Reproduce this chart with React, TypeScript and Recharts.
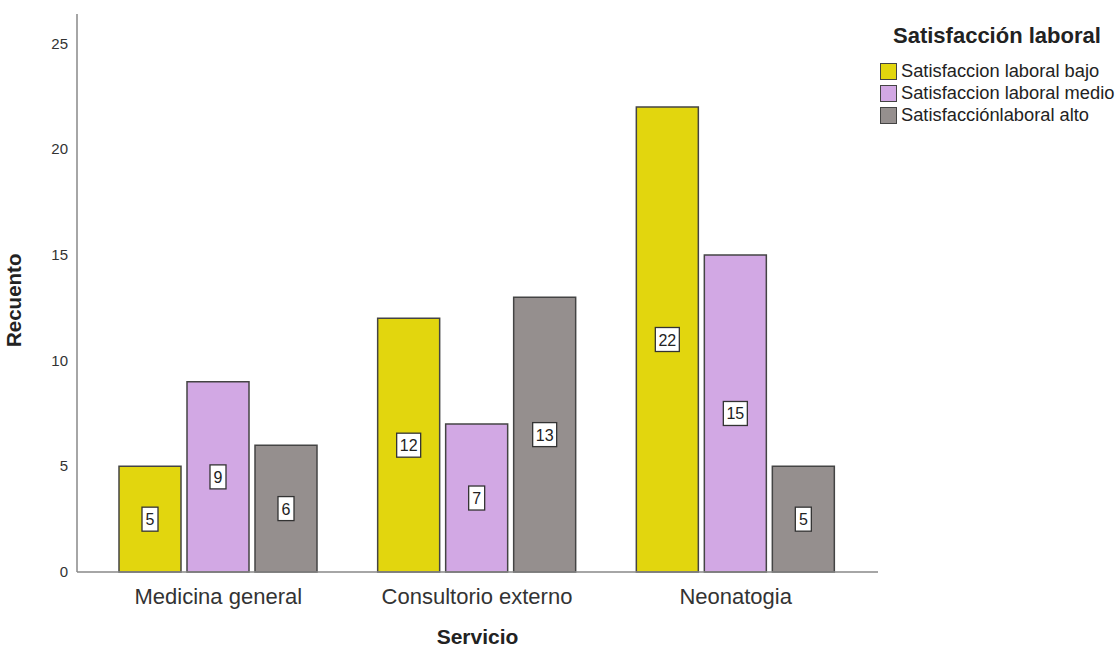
import React from 'react';
import { BarChart, Bar, XAxis, YAxis, LabelList } from 'recharts';

const servicios = ['Medicina general', 'Consultorio externo', 'Neonatogia'];
const bajo = [5, 12, 22];
const medio = [9, 7, 15];
const alto = [6, 13, 5];
const yTicks = [0, 5, 10, 15, 20, 25];

const series = [
  { key: 'bajo', name: 'Satisfaccion laboral bajo', color: '#e2d60e' },
  { key: 'medio', name: 'Satisfaccion laboral medio', color: '#d2a8e4' },
  { key: 'alto', name: 'Satisfacciónlaboral alto', color: '#958f8e' },
];

const data = servicios.map((s, i) => ({
  servicio: s,
  bajo: bajo[i],
  medio: medio[i],
  alto: alto[i],
}));

const FONT = '"Liberation Sans", Arial, sans-serif';

// white boxed count drawn in the middle of each bar
const BoxLabel = (props: any) => {
  const { x, y, width, height, value } = props;
  const cx = x + width / 2;
  const cy = y + height / 2;
  const w = String(value).length > 1 ? 24 : 16;
  return (
    <g>
      <rect x={cx - w / 2} y={cy - 12} width={w} height={24} fill="#fff" stroke="#333" strokeWidth={1.3} />
      <text x={cx} y={cy + 6} textAnchor="middle" fontSize={16} fontFamily={FONT} fill="#222">
        {value}
      </text>
    </g>
  );
};

const CategoryTick = (props: any) => {
  const { x, y, payload } = props;
  return (
    <text x={x} y={y + 24} textAnchor="middle" fontSize={22} fontFamily={FONT} fill="#333">
      {payload.value}
    </text>
  );
};

const ValueTick = (props: any) => {
  const { x, y, payload } = props;
  return (
    <text x={x + 7} y={y + 5} textAnchor="end" fontSize={15} fontFamily={FONT} fill="#333">
      {payload.value}
    </text>
  );
};

const LegendBox = () => (
  <div style={{ position: 'absolute', left: 880, top: 22, fontFamily: FONT, color: '#222', whiteSpace: 'nowrap' }}>
    <div style={{ fontWeight: 'bold', fontSize: 22, marginLeft: 13, height: 28, lineHeight: '28px', marginBottom: 10 }}>
      Satisfacción laboral
    </div>
    {series.map((s) => (
      <div key={s.key} style={{ display: 'flex', alignItems: 'center', height: 22, fontSize: 18.3 }}>
        <span
          style={{
            display: 'inline-block',
            width: 17,
            height: 17,
            background: s.color,
            border: '1.5px solid #444',
            marginRight: 4,
            boxSizing: 'border-box',
          }}
        />
        <span>{s.name}</span>
      </div>
    ))}
  </div>
);

export default function App() {
  return (
    <div style={{ position: 'absolute', left: 0, top: 0, width: 1116, height: 648, background: '#fff' }}>
      <BarChart
        width={1116}
        height={648}
        data={data}
        margin={{ top: 14, right: 238, left: 0, bottom: 36 }}
        barSize={62}
        barGap={6}
      >
        <XAxis
          dataKey="servicio"
          height={40}
          tick={<CategoryTick />}
          tickLine={false}
          axisLine={{ stroke: '#888', strokeWidth: 1.5 }}
          padding={{ left: 12, right: 13 }}
          label={{ value: 'Servicio', position: 'insideBottom', offset: -32, fontSize: 21, fontWeight: 'bold', fontFamily: FONT, fill: '#222' }}
        />
        <YAxis
          width={77}
          domain={[0, 26.4]}
          ticks={yTicks}
          tickLine={false}
          axisLine={{ stroke: '#888', strokeWidth: 1.5 }}
          tick={<ValueTick />}
          tickMargin={10}
          label={{ value: 'Recuento', angle: -90, position: 'insideLeft', offset: 14, dy: 54, fontSize: 20.5, fontWeight: 'bold', fontFamily: FONT, fill: '#222' }}
        />
        {series.map((s) => (
          <Bar key={s.key} dataKey={s.key} name={s.name} fill={s.color} stroke="#444" strokeWidth={1.5} isAnimationActive={false}>
            <LabelList dataKey={s.key} content={<BoxLabel />} />
          </Bar>
        ))}
      </BarChart>
      <LegendBox />
    </div>
  );
}
